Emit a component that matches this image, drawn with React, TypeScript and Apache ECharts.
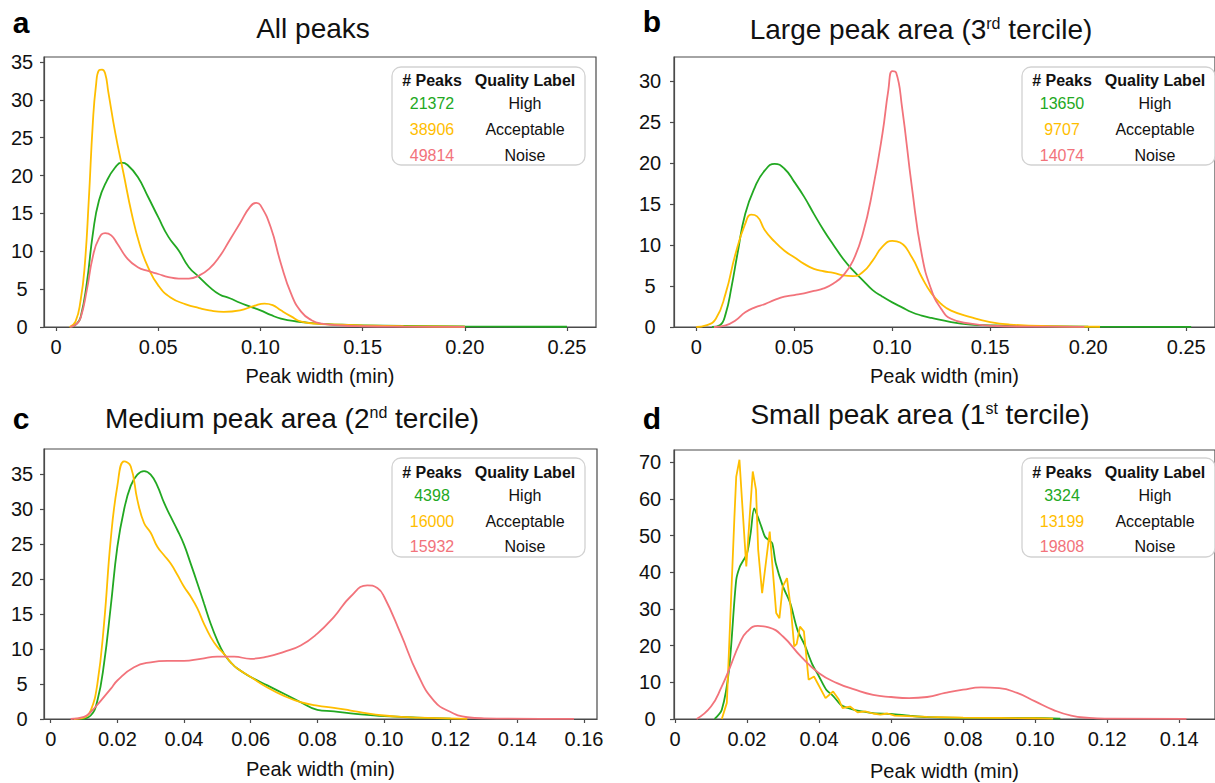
import React, { useEffect, useRef } from 'react';
import * as echarts from 'echarts';

type Pt = [number, number];

const FONT = '"Liberation Sans", Arial, Helvetica, sans-serif';
const GREEN = '#22a822';
const YELLOW = '#ffbe00';
const RED = '#f2737b';
const AXIS = '#4a4a4a';
const TEXT = '#111111';

// ---------- Data (peak width in min, density) ----------
// a: All peaks
const allHigh: Pt[] = [[0.0077,0],[0.010,0.4],[0.012,1.3],[0.015,5.7],[0.018,12.3],[0.021,16.7],[0.025,19.4],[0.029,21.1],[0.032,21.7],[0.035,21.4],[0.04,19.8],[0.045,17.2],[0.05,14.5],[0.055,11.9],[0.06,10.1],[0.065,7.9],[0.07,6.6],[0.075,5.3],[0.08,4.3],[0.085,3.8],[0.09,3.2],[0.095,2.7],[0.1,2.2],[0.105,1.6],[0.11,1.1],[0.115,0.85],[0.12,0.66],[0.13,0.4],[0.14,0.3],[0.15,0.22],[0.17,0.14],[0.2,0.08],[0.25,0.03]];
const allAcc: Pt[] = [[0.0066,0],[0.0095,0.7],[0.012,3.5],[0.014,8],[0.016,16.7],[0.018,27],[0.0195,31.8],[0.021,33.9],[0.0225,34.0],[0.024,33.5],[0.0256,31],[0.029,25.6],[0.033,20.3],[0.037,15],[0.041,10.8],[0.045,7.9],[0.05,5.5],[0.056,3.9],[0.0635,3.0],[0.07,2.5],[0.075,2.2],[0.082,2.0],[0.09,2.2],[0.097,2.8],[0.102,3.1],[0.106,2.9],[0.11,2.2],[0.115,1.4],[0.12,0.7],[0.127,0.45],[0.135,0.33],[0.15,0.2],[0.17,0.1],[0.2,0.03]];
const allNoise: Pt[] = [[0.007,0],[0.01,0.4],[0.012,1.2],[0.015,4.8],[0.018,9.3],[0.021,11.7],[0.024,12.4],[0.027,12.1],[0.03,11],[0.035,9.0],[0.04,7.9],[0.045,7.4],[0.05,7.0],[0.055,6.6],[0.06,6.4],[0.065,6.4],[0.07,6.8],[0.075,7.7],[0.08,9.3],[0.085,11.5],[0.09,13.7],[0.095,15.9],[0.098,16.4],[0.1,16.1],[0.105,13.2],[0.11,8.4],[0.115,4.4],[0.12,2.0],[0.125,0.9],[0.13,0.45],[0.14,0.2],[0.15,0.1],[0.17,0.04],[0.2,0.01]];

// b: Large peak area (3rd tercile)
const largeHigh: Pt[] = [[0.008,0],[0.012,0.2],[0.015,1.6],[0.018,4.9],[0.021,8.9],[0.025,13.8],[0.03,17.1],[0.035,19.1],[0.04,19.9],[0.045,19.3],[0.05,17.7],[0.055,15.9],[0.06,13.8],[0.065,11.8],[0.07,10],[0.075,8.3],[0.08,6.9],[0.085,5.7],[0.09,4.5],[0.095,3.7],[0.1,3.0],[0.105,2.4],[0.11,1.8],[0.115,1.4],[0.12,1.1],[0.13,0.6],[0.14,0.3],[0.15,0.2],[0.17,0.1],[0.2,0.05],[0.2525,0.02]];
const largeAcc: Pt[] = [[0.0,0],[0.005,0.2],[0.01,1.0],[0.015,4.1],[0.02,8.9],[0.025,12.6],[0.028,13.7],[0.031,13.5],[0.035,11.8],[0.04,10.4],[0.045,9.3],[0.05,8.5],[0.055,7.7],[0.06,7.1],[0.065,6.8],[0.07,6.6],[0.075,6.3],[0.08,6.2],[0.085,6.7],[0.09,8.1],[0.095,9.8],[0.1,10.5],[0.104,10.3],[0.11,8.5],[0.115,6.1],[0.12,4.1],[0.125,2.8],[0.13,2.0],[0.14,1.2],[0.15,0.6],[0.16,0.3],[0.18,0.1],[0.206,0.03]];
const largeNoise: Pt[] = [[0.009,0],[0.015,0.2],[0.02,0.8],[0.025,1.8],[0.03,2.4],[0.035,2.8],[0.04,3.3],[0.045,3.7],[0.05,3.9],[0.055,4.1],[0.06,4.4],[0.065,4.7],[0.07,5.3],[0.075,6.3],[0.08,8.1],[0.085,11.4],[0.09,16.7],[0.095,23.6],[0.098,28.9],[0.1,31.2],[0.102,31.0],[0.105,26.8],[0.11,17.1],[0.115,8.9],[0.12,4.5],[0.125,2.2],[0.13,1.0],[0.14,0.4],[0.15,0.15],[0.17,0.05],[0.198,0.01]];

// c: Medium peak area (2nd tercile)
const mediumHigh: Pt[] = [[0.009,0],[0.012,0.5],[0.014,2.6],[0.016,7.9],[0.018,16],[0.02,24.6],[0.022,29.9],[0.024,33.3],[0.026,34.9],[0.028,35.4],[0.03,34.9],[0.032,33.3],[0.034,30.9],[0.036,28.9],[0.038,27],[0.04,24.9],[0.042,22.2],[0.044,19.4],[0.046,16.5],[0.048,13.6],[0.05,11.2],[0.052,9.3],[0.054,8.1],[0.056,7.2],[0.06,6.0],[0.065,4.8],[0.07,3.6],[0.075,2.4],[0.08,1.3],[0.085,1.1],[0.09,0.8],[0.095,0.6],[0.1,0.4],[0.11,0.2],[0.12,0.05]];
const mediumAcc: Pt[] = [[0.007,0],[0.01,0.2],[0.012,1.2],[0.014,5.0],[0.016,13.6],[0.018,25.6],[0.02,33.3],[0.022,36.8],[0.024,36.1],[0.026,31.3],[0.028,28],[0.03,26.6],[0.032,24.6],[0.034,23.4],[0.036,22.2],[0.038,20.6],[0.04,18.9],[0.042,17.5],[0.044,15.8],[0.046,13.6],[0.048,11.7],[0.05,10.3],[0.052,9.3],[0.054,8.1],[0.056,7.2],[0.06,6.0],[0.065,4.5],[0.07,3.3],[0.075,2.4],[0.08,1.9],[0.085,1.6],[0.09,1.2],[0.095,0.8],[0.1,0.5],[0.105,0.3],[0.11,0.2],[0.125,0.03]];
const mediumNoise: Pt[] = [[0.006,0],[0.01,0.3],[0.012,1.0],[0.015,2.6],[0.018,4.3],[0.02,5.5],[0.025,7.4],[0.03,8.1],[0.035,8.3],[0.04,8.3],[0.045,8.6],[0.05,8.9],[0.055,8.9],[0.06,8.6],[0.065,8.9],[0.07,9.6],[0.075,10.5],[0.08,12.2],[0.085,14.6],[0.09,17.5],[0.095,19.1],[0.098,18.7],[0.1,17.5],[0.105,12.2],[0.11,6.5],[0.115,2.6],[0.12,1.0],[0.125,0.25],[0.13,0.1],[0.157,0.01]];

// d: Small peak area (1st tercile)
const smallHigh: Pt[] = [[0.011,0],[0.013,2.5],[0.015,13.4],[0.017,37.9],[0.018,41.5],[0.019,43.3],[0.02,45.1],[0.021,50.6],[0.022,57.4],[0.023,55.1],[0.024,52.4],[0.025,49.7],[0.026,48.8],[0.027,47.9],[0.028,42.4],[0.03,36.1],[0.032,31.6],[0.034,24.3],[0.036,20.2],[0.038,15.2],[0.04,11.6],[0.042,8.0],[0.044,6.2],[0.046,3.9],[0.048,3.0],[0.05,2.4],[0.055,1.6],[0.06,1.4],[0.065,0.9],[0.07,0.5],[0.08,0.3],[0.09,0.3],[0.1,0.3],[0.107,0.1]];
const smallAcc: Pt[] = [[0.013,0],[0.0144,4.4],[0.015,18.9],[0.0165,55],[0.017,66],[0.0179,70.7],[0.0186,59.8],[0.0198,41.6],[0.0216,67.5],[0.0225,62.5],[0.0231,46.1],[0.0242,34.3],[0.0263,51.1],[0.0281,28.9],[0.029,27.5],[0.0299,36.1],[0.0311,38.4],[0.0322,29.8],[0.0331,19.8],[0.0338,20.5],[0.0347,25.2],[0.0358,23.9],[0.0371,10.7],[0.0386,11.6],[0.0418,5.7],[0.0439,7.5],[0.0455,5.3],[0.0465,3.0],[0.0486,3.4],[0.0507,1.8],[0.0528,2.1],[0.055,1.5],[0.057,1.2],[0.059,1.5],[0.061,0.9],[0.07,0.6],[0.08,0.4],[0.09,0.3],[0.1,0.2],[0.105,0.1]];
const smallNoise: Pt[] = [[0.006,0],[0.01,3.4],[0.013,8.9],[0.015,13.4],[0.018,20.7],[0.02,23.8],[0.023,25.4],[0.026,25],[0.03,22.5],[0.035,17],[0.04,12.5],[0.045,9.8],[0.05,8.0],[0.055,6.6],[0.06,6.0],[0.065,5.7],[0.07,6.0],[0.075,7.1],[0.08,8.0],[0.085,8.6],[0.09,8.4],[0.095,7.1],[0.1,4.8],[0.105,2.5],[0.11,0.9],[0.115,0.3],[0.12,0.1],[0.142,0.01]];

// Legend content
const qualityLabels = ['High', 'Acceptable', 'Noise'];
const countsA = ['21372', '38906', '49814'];
const countsB = ['13650', '9707', '14074'];
const countsC = ['4398', '16000', '15932'];
const countsD = ['3324', '13199', '19808'];

// Tick labels
const xTicksAB = [0, 0.05, 0.1, 0.15, 0.2, 0.25];
const xTicksC = [0, 0.02, 0.04, 0.06, 0.08, 0.1, 0.12, 0.14, 0.16];
const xTicksD = [0, 0.02, 0.04, 0.06, 0.08, 0.1, 0.12, 0.14];
const yTicksA = [0, 5, 10, 15, 20, 25, 30, 35];
const yTicksB = [0, 5, 10, 15, 20, 25, 30];
const yTicksC = [0, 5, 10, 15, 20, 25, 30, 35];
const yTicksD = [0, 10, 20, 30, 40, 50, 60, 70];

// Titles
const titleA = '{n|All peaks}';
const titleB = '{n|Large peak area (3}{s|rd}{n| tercile)}';
const titleC = '{n|Medium peak area (2}{s|nd}{n| tercile)}';
const titleD = '{n|Small peak area (1}{s|st}{n| tercile)}';

// ---------- Layout ----------
const panels = [
  { letter: 'a', title: titleA, grid: { left: 44, top: 57, width: 552, height: 270 }, xMin: -0.0059, xMax: 0.2642, yMax: 35.66, xTicks: xTicksAB, yTicks: yTicksA, yMargin: 22, nameGap: 39,
    series: [allHigh, allAcc, allNoise], counts: countsA, smooth: [0.5, 0.5, 0.5],
    letterPos: [21, 22], titlePos: [313, 28], legend: { x: 392, y: 67, w: 193, h: 98, rows: [80, 103, 129, 155], c1: 432, c2: 525 } },
  { letter: 'b', title: titleB, grid: { left: 674, top: 57, width: 552, height: 270 }, xMin: -0.01135, xMax: 0.26465, yMax: 32.93, xTicks: xTicksAB, yTicks: yTicksB, yMargin: 24, nameGap: 39,
    series: [largeHigh, largeAcc, largeNoise], counts: countsB, smooth: [0.5, 0.5, 0.5],
    letterPos: [652, 21], titlePos: [921, 29], legend: { x: 1022, y: 67, w: 193, h: 98, rows: [80, 103, 129, 155], c1: 1062, c2: 1155 } },
  { letter: 'c', title: titleC, grid: { left: 44, top: 449, width: 553, height: 270 }, xMin: -0.00201, xMax: 0.1639, yMax: 38.57, xTicks: xTicksC, yTicks: yTicksC, yMargin: 22, nameGap: 40,
    series: [mediumHigh, mediumAcc, mediumNoise], counts: countsC, smooth: [0.45, 0.45, 0.5],
    letterPos: [21, 418], titlePos: [292, 418], legend: { x: 392, y: 458, w: 193, h: 99, rows: [472.5, 495, 521, 546], c1: 432, c2: 525 } },
  { letter: 'd', title: titleD, grid: { left: 674, top: 450, width: 552, height: 269 }, xMin: -0.00027, xMax: 0.14993, yMax: 73.35, xTicks: xTicksD, yTicks: yTicksD, yMargin: 24, nameGap: 42,
    series: [smallHigh, smallAcc, smallNoise], counts: countsD, smooth: [0.3, false, 0.5],
    letterPos: [652, 418], titlePos: [920, 414], legend: { x: 1022, y: 458, w: 193, h: 99, rows: [472.5, 495, 521, 546], c1: 1062, c2: 1155 } },
];

const COLORS = [GREEN, YELLOW, RED];

const fmtX = (v: number) => (v === 0 ? '0' : v.toFixed(2));

function buildOption(): any {
  const grids: any[] = [];
  const xAxes: any[] = [];
  const yAxes: any[] = [];
  const series: any[] = [];
  const graphics: any[] = [];

  panels.forEach((p, i) => {
    grids.push({ ...p.grid, show: true, borderColor: AXIS, borderWidth: 1.2, backgroundColor: 'transparent', containLabel: false });
    xAxes.push({
      type: 'value', gridIndex: i, min: p.xMin, max: p.xMax,
      axisLine: { show: true, onZero: false, lineStyle: { color: AXIS, width: 1.2 } },
      axisTick: { show: true, inside: false, length: 4, customValues: p.xTicks, lineStyle: { color: AXIS, width: 1.2 } },
      axisLabel: { customValues: p.xTicks, formatter: fmtX, fontSize: 20, fontFamily: FONT, color: TEXT, margin: 10 },
      splitLine: { show: false },
      name: 'Peak width (min)', nameLocation: 'middle', nameGap: p.nameGap,
      nameTextStyle: { fontSize: 20, fontFamily: FONT, color: TEXT },
    });
    yAxes.push({
      type: 'value', gridIndex: i, min: 0, max: p.yMax,
      axisLine: { show: true, onZero: false, lineStyle: { color: AXIS, width: 1.2 } },
      axisTick: { show: true, inside: false, length: 4, customValues: p.yTicks, lineStyle: { color: AXIS, width: 1.2 } },
      axisLabel: { customValues: p.yTicks, fontSize: 20, fontFamily: FONT, color: TEXT, margin: p.yMargin, align: 'center' },
      splitLine: { show: false },
    });
    p.series.forEach((data, k) => {
      series.push({
        type: 'line', xAxisIndex: i, yAxisIndex: i, data,
        smooth: p.smooth[k], symbol: 'none', showSymbol: false, silent: true,
        lineStyle: { color: COLORS[k], width: 1.8 }, itemStyle: { color: COLORS[k] },
        emphasis: { disabled: true }, z: 2 + k,
      });
    });

    // panel letter
    graphics.push({ type: 'text', x: p.letterPos[0], y: p.letterPos[1], style: { text: p.letter, font: `bold 30px ${FONT}`, fill: '#000', align: 'center', verticalAlign: 'middle' } });
    // title
    graphics.push({
      type: 'text', x: p.titlePos[0], y: p.titlePos[1],
      style: {
        text: p.title, align: 'center', verticalAlign: 'middle', fill: TEXT,
        rich: {
          n: { fontSize: 28, fontFamily: FONT, fill: TEXT },
          s: { fontSize: 16, fontFamily: FONT, fill: TEXT, verticalAlign: 'top' },
        },
      },
    });
    // legend box
    const L = p.legend;
    graphics.push({ type: 'rect', z: 10, shape: { x: L.x, y: L.y, width: L.w, height: L.h, r: 9 }, style: { fill: 'rgba(255,255,255,0.85)', stroke: '#d2d2d2', lineWidth: 1.3 } });
    graphics.push({ type: 'text', z: 11, x: L.c1, y: L.rows[0], style: { text: '# Peaks', font: `bold 16px ${FONT}`, fill: TEXT, align: 'center', verticalAlign: 'middle' } });
    graphics.push({ type: 'text', z: 11, x: L.c2, y: L.rows[0], style: { text: 'Quality Label', font: `bold 16px ${FONT}`, fill: TEXT, align: 'center', verticalAlign: 'middle' } });
    qualityLabels.forEach((lab, k) => {
      graphics.push({ type: 'text', z: 11, x: L.c1, y: L.rows[k + 1], style: { text: p.counts[k], font: `16px ${FONT}`, fill: COLORS[k], align: 'center', verticalAlign: 'middle' } });
      graphics.push({ type: 'text', z: 11, x: L.c2, y: L.rows[k + 1], style: { text: lab, font: `16px ${FONT}`, fill: TEXT, align: 'center', verticalAlign: 'middle' } });
    });
  });

  return {
    animation: false,
    backgroundColor: '#ffffff',
    textStyle: { fontFamily: FONT },
    grid: grids,
    xAxis: xAxes,
    yAxis: yAxes,
    series,
    graphic: { elements: graphics },
  };
}

export default function App() {
  const ref = useRef<HTMLDivElement>(null);
  useEffect(() => {
    if (!ref.current) return;
    const chart = echarts.init(ref.current, undefined, { renderer: 'svg' });
    chart.setOption(buildOption());
    return () => chart.dispose();
  }, []);
  return (
    <div
      ref={ref}
      style={{ position: 'absolute', left: 0, top: 0, width: 1215, height: 783, background: '#fff' }}
    />
  );
}
